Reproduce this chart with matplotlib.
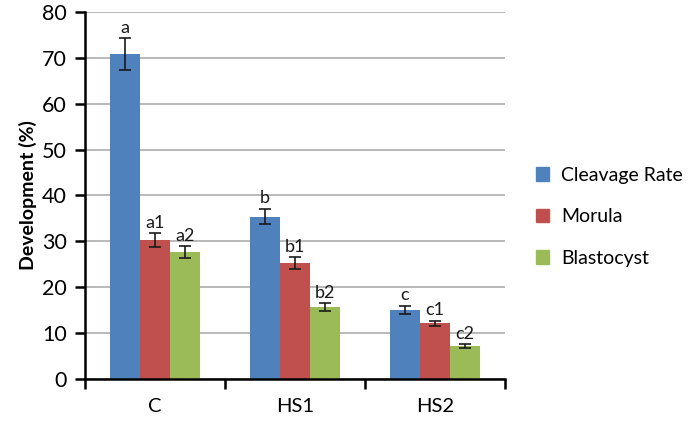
import numpy as np
import matplotlib.pyplot as plt
from matplotlib.patches import Patch

plt.rcParams['font.family'] = ['Lato', 'DejaVu Sans']

groups = ['C', 'HS1', 'HS2']
series = ['Cleavage Rate', 'Morula', 'Blastocyst']
colors = ['#4F81BD', '#C0504D', '#9BBB59']

cleavage = [70.8, 35.4, 15.1]
morula = [30.3, 25.2, 12.1]
blastocyst = [27.7, 15.7, 7.2]
cleavage_err = [3.5, 1.7, 0.9]
morula_err = [1.5, 1.3, 0.6]
blastocyst_err = [1.3, 0.8, 0.4]

cleavage_lbl = ['a', 'b', 'c']
morula_lbl = ['a1', 'b1', 'c1']
blastocyst_lbl = ['a2', 'b2', 'c2']

values = [cleavage, morula, blastocyst]
errors = [cleavage_err, morula_err, blastocyst_err]
labels = [cleavage_lbl, morula_lbl, blastocyst_lbl]

fig = plt.figure(figsize=(6.93, 4.38), dpi=100)
ax = fig.add_axes([0.1227, 0.1347, 0.606, 0.838])

x = np.arange(len(groups))
w = 0.215
for i, (vals, errs, lbls) in enumerate(zip(values, errors, labels)):
    pos = x + (i - 1) * w
    ax.bar(pos, vals, w, color=colors[i], zorder=2)
    ax.errorbar(pos, vals, yerr=errs, fmt='none', ecolor='#1a1a1a',
                elinewidth=1.2, capsize=4, capthick=1.2, zorder=3)
    for p, v, e, t in zip(pos, vals, errs, lbls):
        ax.text(p, v + e + 0.5, t, ha='center', va='bottom', fontsize=13,
                color='#1a1a1a')

ax.set_xlim(-0.5, 2.5)
ax.set_ylim(0, 80)
ax.set_yticks(range(0, 81, 10))
ax.yaxis.grid(True, color='#a6a6a6', lw=1.1, zorder=0)
ax.set_axisbelow(True)

ax.set_xticks([-0.5, 0.5, 1.5, 2.5])
ax.set_xticklabels([])
ax.set_xticks(x, minor=True)
ax.set_xticklabels(groups, minor=True, fontsize=14.5)
ax.tick_params(axis='x', which='minor', length=0, pad=14)
ax.tick_params(axis='x', which='major', length=7, width=1.8, direction='out')
ax.tick_params(axis='y', length=7, width=1.8, labelsize=15.5, pad=6)

for s in ['top', 'right']:
    ax.spines[s].set_visible(False)
for s in ['left', 'bottom']:
    ax.spines[s].set_linewidth(1.8)

ax.set_ylabel('Development (%)', fontsize=14, fontweight='bold', labelpad=4)

handles = [Patch(color=c) for c in colors]
fig.legend(handles, series, loc='center left', bbox_to_anchor=(0.748, 0.505),
           frameon=False, fontsize=14, handlelength=0.7, handleheight=0.7,
           labelspacing=1.25, handletextpad=0.6)

fig.savefig('out.png', dpi=100)
